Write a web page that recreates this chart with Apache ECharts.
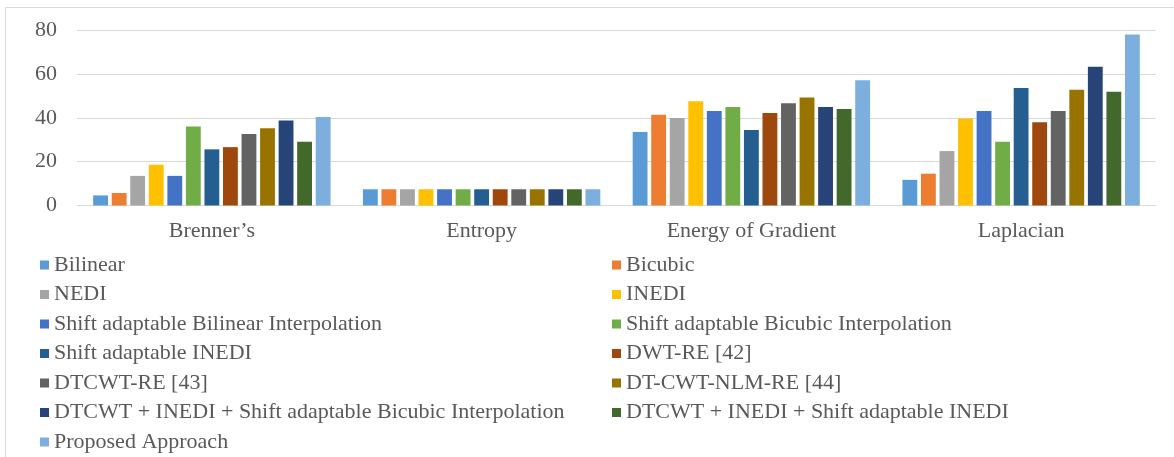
<!DOCTYPE html>
<html>
<head>
<meta charset="utf-8">
<script src="https://cdn.jsdelivr.net/npm/echarts@6/dist/echarts.min.js"></script>
<style>
html, body { margin: 0; padding: 0; background: #fff; }
#chart { width: 1174px; height: 457px; }
</style>
</head>
<body>
<div id="chart"></div>
<script>
var categories = ['Brenner\u2019s', 'Entropy', 'Energy of Gradient', 'Laplacian'];
var yTicks = [0, 20, 40, 60, 80];

var methodNames = [
  'Bilinear', 'Bicubic', 'NEDI', 'INEDI',
  'Shift adaptable Bilinear Interpolation', 'Shift adaptable Bicubic Interpolation',
  'Shift adaptable INEDI', 'DWT-RE [42]', 'DTCWT-RE [43]', 'DT-CWT-NLM-RE [44]',
  'DTCWT + INEDI + Shift adaptable Bicubic Interpolation',
  'DTCWT + INEDI + Shift adaptable INEDI', 'Proposed Approach'
];

// one array per method: Brenner's, Entropy, Energy of Gradient, Laplacian
var bilinear   = [4.6, 7.4, 33.5, 11.7];
var bicubic    = [5.7, 7.4, 41.4, 14.5];
var nedi       = [13.5, 7.4, 39.9, 24.8];
var inedi      = [18.6, 7.4, 47.5, 39.7];
var saBilinear = [13.5, 7.4, 43.1, 43.1];
var saBicubic  = [36.0, 7.4, 44.9, 29.1];
var saInedi    = [25.6, 7.4, 34.4, 53.6];
var dwtRe      = [26.6, 7.4, 42.2, 37.9];
var dtcwtRe    = [32.6, 7.4, 46.6, 43.1];
var dtcwtNlm   = [35.2, 7.4, 49.2, 52.8];
var comboBicub = [38.7, 7.4, 44.9, 63.2];
var comboInedi = [29.1, 7.4, 44.0, 51.8];
var proposed   = [40.3, 7.4, 57.1, 78.0];

var seriesValues = [bilinear, bicubic, nedi, inedi, saBilinear, saBicubic, saInedi,
  dwtRe, dtcwtRe, dtcwtNlm, comboBicub, comboInedi, proposed];

var colors = ['#5B9BD5', '#ED7D31', '#A5A5A5', '#FFC000', '#4472C4', '#70AD47',
  '#255E91', '#9E480E', '#636363', '#997300', '#264478', '#43682B', '#7CAFDD'];

var font = '"Liberation Serif", "Times New Roman", serif';
var textColor = '#595959';

var series = [];
for (var i = 0; i < methodNames.length; i++) {
  series.push({
    name: methodNames[i],
    type: 'bar',
    data: seriesValues[i],
    barGap: '25%',
    barCategoryGap: '12%',
    itemStyle: { color: colors[i] }
  });
}

var leftCol = methodNames.filter(function (n, i) { return i % 2 === 0; });
var rightCol = methodNames.filter(function (n, i) { return i % 2 === 1; });

function legendAt(names, left) {
  return {
    data: names,
    orient: 'vertical',
    left: left,
    top: 254,
    padding: 0,
    itemWidth: 9,
    itemHeight: 9,
    itemGap: 7.5,
    icon: 'rect',
    selectedMode: false,
    textStyle: { fontFamily: font, fontSize: 22, color: textColor }
  };
}

var chart = echarts.init(document.getElementById('chart'));
chart.setOption({
  backgroundColor: '#fff',
  animation: false,
  color: colors,
  graphic: [{
    type: 'rect',
    shape: { x: 5.5, y: 7.5, width: 1200, height: 500 },
    style: { fill: 'none', stroke: '#D9D9D9', lineWidth: 1 },
    silent: true
  }],
  grid: { left: 77, right: 18, top: 30, bottom: 251.5 },
  legend: [legendAt(leftCol, 40), legendAt(rightCol, 612)],
  xAxis: {
    type: 'category',
    data: categories,
    axisLine: { lineStyle: { color: '#D9D9D9', width: 1 } },
    axisTick: { show: false },
    axisLabel: { fontFamily: font, fontSize: 22, color: textColor, margin: 15 }
  },
  yAxis: {
    type: 'value',
    min: yTicks[0],
    max: yTicks[yTicks.length - 1],
    interval: 20,
    axisLine: { show: false },
    axisTick: { show: false },
    splitLine: { lineStyle: { color: '#D9D9D9', width: 1 } },
    axisLabel: { fontFamily: font, fontSize: 22, color: textColor, margin: 20 }
  },
  series: series
});
</script>
</body>
</html>
